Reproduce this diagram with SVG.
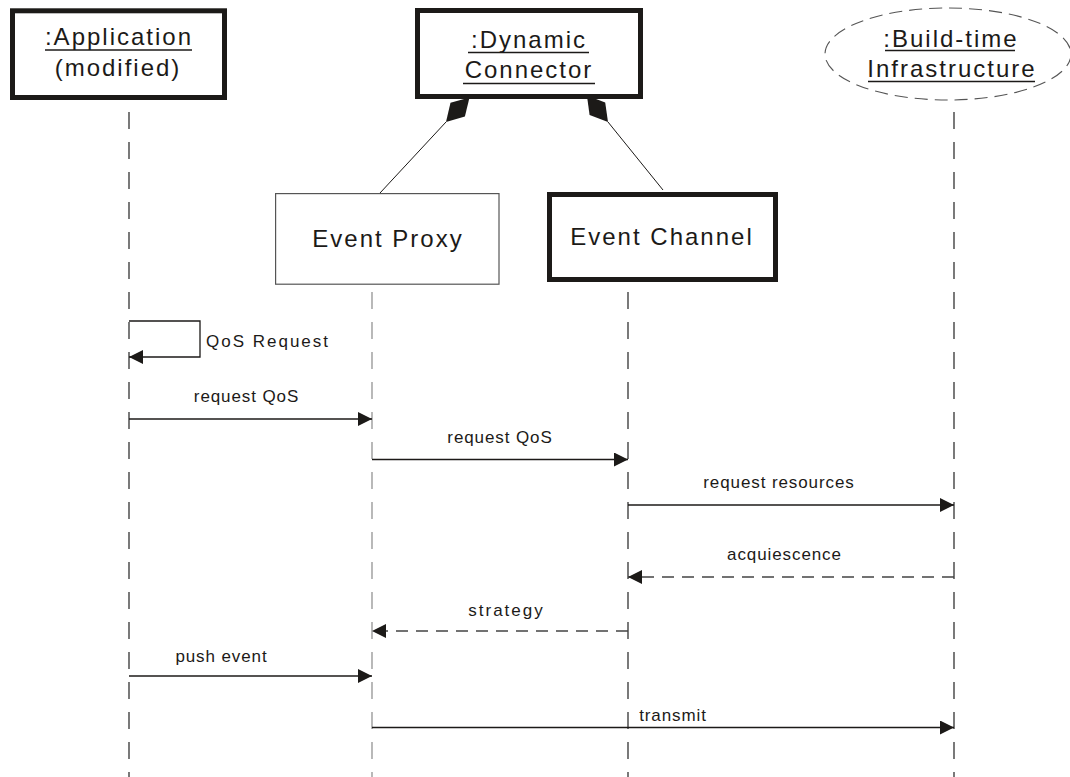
<svg xmlns="http://www.w3.org/2000/svg" width="1070" height="777" viewBox="0 0 1070 777">
  <style>
    .obj { fill: #ffffff; stroke: #1c1a18; stroke-width: 5; }
    .thin { fill: #ffffff; stroke: #555555; stroke-width: 1.2; }
    .title { font-family: "Liberation Sans", Arial, sans-serif; font-size: 24px; letter-spacing: 2px; fill: #1c1a18; text-anchor: middle; }
    .ul { stroke: #1c1a18; stroke-width: 1.3; }
    .life { stroke: #222222; stroke-width: 1.2; stroke-dasharray: 17 13; fill: none; }
    .life.grey { stroke: #8a8a8a; }
    .msg { stroke: #1c1a18; stroke-width: 1.3; fill: none; marker-end: url(#head); }
    .reply { stroke: #444444; stroke-width: 1.3; fill: none; stroke-dasharray: 12 8; marker-end: url(#head); }
    .lbl { font-family: "Liberation Sans", Arial, sans-serif; font-size: 17px; letter-spacing: 0.9px; fill: #1c1a18; text-anchor: middle; }
    .link { stroke: #1c1a18; stroke-width: 1; fill: none; }
    .diamond { fill: #1c1a18; stroke: none; }
  </style>
  <defs>
    <marker id="head" viewBox="0 0 14 14" refX="14" refY="7" markerWidth="14" markerHeight="14" markerUnits="userSpaceOnUse" orient="auto">
      <path d="M0,0 L14,7 L0,14 z" fill="#1c1a18"/>
    </marker>
  </defs>

  <rect width="1070" height="777" fill="#ffffff"/>

  <!-- lifelines, dash phase shared so all dashes line up -->
  <g id="lifelines">
    <line class="life" x1="129" y1="100" x2="129" y2="777" stroke-dashoffset="18"/>
    <line class="life grey" x1="372" y1="285" x2="372" y2="777" stroke-dashoffset="23"/>
    <line class="life" x1="628" y1="282" x2="628" y2="777" stroke-dashoffset="20"/>
    <line class="life" x1="954" y1="100" x2="954" y2="777" stroke-dashoffset="18"/>
  </g>

  <!-- composition links from the connector to its parts -->
  <g id="composition">
    <line class="link" x1="380" y1="193" x2="446" y2="122"/>
    <polygon class="diamond" points="446,122 464.9,116.6 469.5,97.4 450.5,102.8"/>
    <line class="link" x1="663" y1="190" x2="608" y2="122"/>
    <polygon class="diamond" points="608,122 589.6,114.9 586.9,95.4 605.2,102.5"/>
  </g>

  <g id="application">
    <rect class="obj" x="12.5" y="10.8" width="212" height="86.7"/>
    <text class="title" x="119" y="45">:Application</text>
    <line class="ul" x1="45" y1="50" x2="192" y2="50"/>
    <text class="title" x="118" y="76">(modified)</text>
  </g>

  <g id="dynamic-connector">
    <rect class="obj" x="417.5" y="10.5" width="223" height="86"/>
    <text class="title" x="529" y="48">:Dynamic</text>
    <line class="ul" x1="468" y1="52.5" x2="589" y2="52.5"/>
    <text class="title" x="529" y="78">Connector</text>
    <line class="ul" x1="463" y1="83.5" x2="595" y2="83.5"/>
  </g>

  <g id="build-time-infrastructure">
    <ellipse cx="948" cy="54" rx="123" ry="46" fill="#ffffff" stroke="#555555" stroke-width="1.1" stroke-dasharray="13 7"/>
    <text class="title" x="951" y="46.5">:Build-time</text>
    <line class="ul" x1="885" y1="50.5" x2="1015" y2="50.5"/>
    <text class="title" x="952" y="76.5">Infrastructure</text>
    <line class="ul" x1="868" y1="81.5" x2="1035" y2="81.5"/>
  </g>

  <g id="event-proxy">
    <rect class="thin" x="275.6" y="193.6" width="223.4" height="90.6"/>
    <text class="title" x="388" y="247">Event Proxy</text>
  </g>

  <g id="event-channel">
    <rect class="obj" x="549.5" y="194.5" width="226" height="85"/>
    <text class="title" x="662" y="245">Event Channel</text>
  </g>

  <!-- messages -->
  <g id="messages">
    <path class="msg" d="M129,321 H200 V357 H129"/>
    <line class="msg" x1="129" y1="419" x2="372" y2="419"/>
    <line class="msg" x1="372" y1="459.5" x2="628" y2="459.5"/>
    <line class="msg" x1="628" y1="505" x2="954" y2="505"/>
    <line class="reply" x1="954" y1="577" x2="628" y2="577"/>
    <line class="reply" x1="628" y1="631" x2="372" y2="631"/>
    <line class="msg" x1="129" y1="676" x2="372" y2="676"/>
    <line class="msg" x1="372" y1="727.5" x2="954" y2="727.5"/>
  </g>

  <g id="message-labels">
    <text class="lbl" x="268" y="347" style="letter-spacing:2px">QoS Request</text>
    <text class="lbl" x="246.5" y="402">request QoS</text>
    <text class="lbl" x="500" y="443">request QoS</text>
    <text class="lbl" x="779" y="488">request resources</text>
    <text class="lbl" x="784.5" y="560">acquiescence</text>
    <text class="lbl" x="506.5" y="616" style="letter-spacing:2px">strategy</text>
    <text class="lbl" x="221.5" y="662">push event</text>
    <text class="lbl" x="673" y="721">transmit</text>
  </g>
</svg>
